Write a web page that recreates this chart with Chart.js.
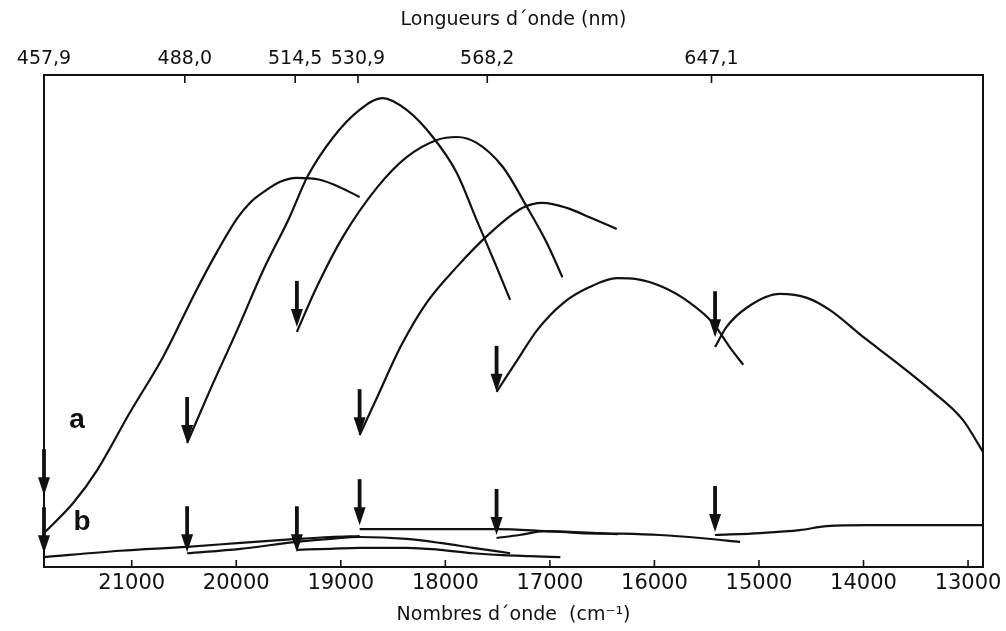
<!DOCTYPE html>
<html>
<head>
<meta charset="utf-8">
<script src="https://cdn.jsdelivr.net/npm/chart.js@4.4.0/dist/chart.umd.min.js"></script>
<style>
  html, body { margin: 0; padding: 0; background: #fff; }
</style>
</head>
<body>
<canvas id="profiles" width="1006" height="631"></canvas>
<script>
// Laser lines: wavelength labels (nm) and the matching wavenumbers (cm-1)
const laserLabels = ['457,9', '488,0', '514,5', '530,9', '568,2', '647,1'];
const laserWavenumbers = [21839, 20492, 19436, 18836, 17599, 15454];

// Lower axis ticks (cm-1)
const wavenumberTicks = [21000, 20000, 19000, 18000, 17000, 16000, 15000, 14000, 13000];

// Arrow positions (cm-1) and tip heights for the a and b sets
const arrowWavenumbers = [21839, 20470, 19420, 18820, 17510, 15420];
const arrowTipsA = [14.6, 25.2, 48.8, 26.8, 35.6, 46.7];
const arrowTipsB = [2.8, 3.0, 3.0, 8.5, 6.5, 7.1];

// Set a: [wavenumber, relative intensity]
const a1 = [[21839, 6.9], [21560, 13.0], [21330, 19.7], [21020, 31.3], [20700, 42.7], [20380, 56.3],
            [20180, 64.2], [19990, 70.9], [19870, 74.0], [19740, 76.2], [19580, 78.3], [19420, 79.1],
            [19200, 78.7], [19010, 77.2], [18820, 75.2]];
const a2 = [[20470, 25.2], [20250, 36.0], [19990, 48.2], [19740, 60.4], [19490, 71.1], [19320, 79.3],
            [19070, 87.4], [18820, 92.9], [18600, 95.3], [18370, 92.9], [18120, 87.4], [17890, 80.1],
            [17700, 70.5], [17510, 61.0], [17380, 54.3]];
const a3 = [[19420, 47.8], [19230, 56.9], [18980, 67.1], [18650, 77.2], [18370, 83.3], [18080, 86.8],
            [17890, 87.4], [17700, 86.2], [17450, 81.3], [17220, 73.2], [17030, 65.9], [16880, 58.9]];
const a4 = [[18820, 26.8], [18650, 34.6], [18430, 44.7], [18180, 53.7], [17890, 61.0], [17570, 67.9],
            [17260, 73.0], [17070, 74.0], [16840, 73.0], [16620, 71.1], [16360, 68.7]];
const a5 = [[17510, 35.6], [17310, 42.1], [17120, 48.2], [16870, 53.7], [16620, 56.9], [16360, 58.7],
            [16170, 58.5], [15920, 56.9], [15660, 53.7], [15440, 49.6], [15280, 44.7], [15150, 41.1]];
const a6 = [[15420, 44.7], [15310, 48.8], [15110, 52.8], [14800, 55.5], [14540, 54.7], [14320, 52.2],
            [14000, 46.7], [13680, 41.5], [13360, 36.0], [13050, 29.9], [12857, 23.4]];

// Set b
const b1 = [[21839, 2.0], [21110, 3.3], [20470, 4.1], [19960, 4.9], [19420, 5.7], [19100, 6.1], [18820, 6.3]];
const b2 = [[20470, 2.8], [19960, 3.7], [19420, 5.1], [19100, 5.7], [18820, 6.1], [18370, 5.7],
            [18050, 4.9], [17735, 3.9], [17380, 2.8]];
const b3 = [[19420, 3.5], [19100, 3.7], [18820, 3.9], [18370, 3.9], [18050, 3.5], [17735, 2.8],
            [17450, 2.4], [17190, 2.2], [16900, 2.0]];
const b4 = [[18820, 7.7], [18240, 7.7], [17510, 7.7], [17050, 7.3], [16710, 6.9], [16350, 6.7]];
const b5 = [[17510, 5.9], [17290, 6.5], [17050, 7.3], [16520, 6.9], [15950, 6.5], [15560, 5.9], [15180, 5.1]];
const b6 = [[15420, 6.5], [14990, 6.9], [14610, 7.5], [14350, 8.3], [13940, 8.5], [13460, 8.5], [12857, 8.5]];

const X_MIN = 12857;
const X_MAX = 21839;
const INK = '#111';
const textFont = { family: 'DejaVu Sans', size: 19 };

const toDataset = pts => ({
    data: pts.map(([x, y]) => ({ x, y })),
    borderColor: INK,
    borderWidth: 2.2,
    pointRadius: 0,
    cubicInterpolationMode: 'monotone',
    fill: false
});

// Frame, inward tick marks, arrows and the a / b letters
const decorations = {
    id: 'decorations',
    afterDatasetsDraw(chart) {
        const { ctx, chartArea: area, scales } = chart;
        const xs = scales.x, ys = scales.y;
        ctx.save();
        ctx.strokeStyle = INK;
        ctx.fillStyle = INK;

        ctx.lineWidth = 2;
        ctx.strokeRect(area.left, area.top, area.right - area.left, area.bottom - area.top);

        ctx.lineWidth = 1.6;
        ctx.beginPath();
        wavenumberTicks.forEach(v => {
            const px = xs.getPixelForValue(v);
            ctx.moveTo(px, area.bottom);
            ctx.lineTo(px, area.bottom - 7);
        });
        laserWavenumbers.forEach(v => {
            const px = xs.getPixelForValue(v);
            ctx.moveTo(px, area.top);
            ctx.lineTo(px, area.top + 8);
        });
        ctx.stroke();

        const arrow = (v, tip) => {
            const px = xs.getPixelForValue(v);
            const py = ys.getPixelForValue(tip);
            ctx.lineWidth = 3.8;
            ctx.beginPath();
            ctx.moveTo(px, py - 46);
            ctx.lineTo(px, py - 14);
            ctx.stroke();
            ctx.beginPath();
            ctx.moveTo(px - 6, py - 18);
            ctx.lineTo(px + 6, py - 18);
            ctx.lineTo(px, py);
            ctx.closePath();
            ctx.fill();
        };
        arrowWavenumbers.forEach((v, i) => {
            arrow(v, arrowTipsA[i]);
            arrow(v, arrowTipsB[i]);
        });

        ctx.font = 'bold 28px "Liberation Sans Narrow", "Liberation Sans", sans-serif';
        ctx.textAlign = 'center';
        ctx.textBaseline = 'middle';
        ctx.fillText('a', xs.getPixelForValue(21523), ys.getPixelForValue(29.9));
        ctx.fillText('b', xs.getPixelForValue(21475), ys.getPixelForValue(9.0));
        ctx.restore();
    }
};

new Chart(document.getElementById('profiles').getContext('2d'), {
    type: 'line',
    data: {
        datasets: [a1, a2, a3, a4, a5, a6, b1, b2, b3, b4, b5, b6].map(toDataset)
    },
    options: {
        responsive: false,
        animation: false,
        devicePixelRatio: 1,
        layout: { padding: { left: 44, right: 23, top: 0, bottom: 0 } },
        plugins: { legend: { display: false }, tooltip: { enabled: false } },
        scales: {
            x: {
                type: 'linear',
                position: 'bottom',
                min: X_MIN,
                max: X_MAX,
                reverse: true,
                afterBuildTicks: s => { s.ticks = wavenumberTicks.map(v => ({ value: v })); },
                afterFit: s => { s.height = 64; },
                ticks: {
                    callback: v => String(v),
                    autoSkip: false,
                    maxRotation: 0,
                    padding: 4,
                    color: INK,
                    font: { family: 'DejaVu Sans', size: 21 }
                },
                grid: { display: false, drawTicks: false },
                border: { display: false },
                title: {
                    display: true,
                    text: 'Nombres d\u00b4onde  (cm\u207b\u00b9)',
                    color: INK,
                    font: textFont,
                    padding: { top: 0, bottom: 5 }
                }
            },
            x2: {
                type: 'linear',
                position: 'top',
                min: X_MIN,
                max: X_MAX,
                reverse: true,
                afterBuildTicks: s => { s.ticks = laserWavenumbers.map(v => ({ value: v })); },
                afterFit: s => { s.height = 75; },
                ticks: {
                    callback: (v, i) => laserLabels[i],
                    autoSkip: false,
                    maxRotation: 0,
                    padding: 5,
                    color: INK,
                    font: textFont
                },
                grid: { display: false, drawTicks: false },
                border: { display: false },
                title: {
                    display: true,
                    text: 'Longueurs d\u00b4onde (nm)',
                    color: INK,
                    font: textFont,
                    padding: { top: 9, bottom: 0 }
                }
            },
            y: {
                display: false,
                min: 0,
                max: 100
            }
        }
    },
    plugins: [decorations]
});
</script>
</body>
</html>
